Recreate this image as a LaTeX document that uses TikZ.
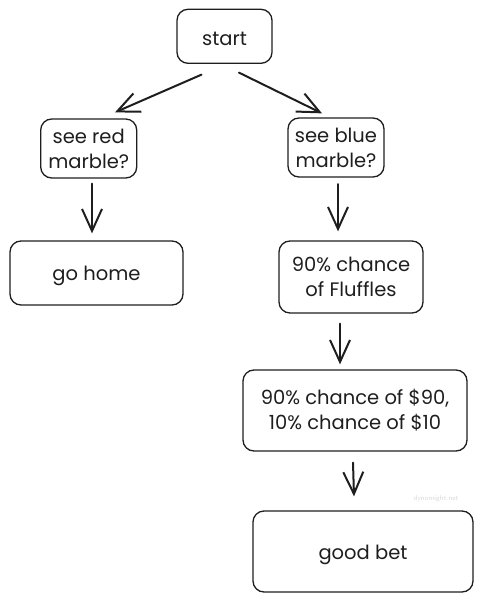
\documentclass[tikz,border=0pt]{standalone}
\usepackage{fontspec}
\setmainfont{Poppins}
\usetikzlibrary{arrows.meta}
\definecolor{ink}{HTML}{1E1E1E}
\tikzset{
  box/.style={draw=ink, line width=1.3pt, rounded corners=11pt, inner sep=0pt, align=center,
    font=\fontsize{19.5}{25}\selectfont, text=ink},
  arr/.style={draw=ink, line width=2pt, line cap=round, -{Straight Barb[length=22pt,width=20pt,line width=2pt]}},
}
\newcommand{\lowtxt}[1]{\raisebox{-3pt}[\height][\depth]{#1}}
\begin{document}
\begin{tikzpicture}[x=1pt,y=-1pt]
\useasboundingbox (0,0) rectangle (484,601);
\node[box, minimum width=95pt, minimum height=54pt] (start) at (224.5,36.3) {\lowtxt{start}};
\node[box, minimum width=96pt, minimum height=59pt] (red) at (88.7,148.5) {see red\\marble?};
\node[box, minimum width=96pt, minimum height=59pt] (blue) at (336,147.5) {see blue\\marble?};
\node[box, minimum width=173pt, minimum height=64pt] (home) at (96.5,273) {\lowtxt{go home}};
\node[box, minimum width=144pt, minimum height=72pt] (fluff) at (351,277) {90\% chance\\of Fluffles};
\node[box, minimum width=224pt, minimum height=81pt] (ninety) at (355,410.5) {90\% chance of \$90,\\10\% chance of \$10};
\node[box, minimum width=220pt, minimum height=81pt] (good) at (363,551.5) {\lowtxt{good bet}};
\node[text=gray!30, font=\fontsize{7}{8}\selectfont\sffamily] (wm) at (436,499) {dynomight.net};
\draw[arr] ([xshift=-23pt,yshift=-10.7pt]start.south) -- ([xshift=26.3pt,yshift=6pt]red.north);
\draw[arr] ([xshift=14.5pt,yshift=-8.7pt]start.south) -- ([xshift=-14pt,yshift=4pt]blue.north);
\draw[arr] ([xshift=3.3pt,yshift=-5pt]red.south) -- ([xshift=-4.5pt,yshift=7pt]home.north);
\draw[arr] ([xshift=2pt,yshift=-6.5pt]blue.south) -- ([xshift=-13pt,yshift=9pt]fluff.north);
\draw[arr] ([xshift=-11pt,yshift=-10pt]fluff.south) -- ([xshift=-15pt,yshift=5pt]ninety.north);
\draw[arr] ([xshift=-2pt,yshift=-11pt]ninety.south) -- ([xshift=-9pt,yshift=14pt]good.north);
\end{tikzpicture}
\end{document}
